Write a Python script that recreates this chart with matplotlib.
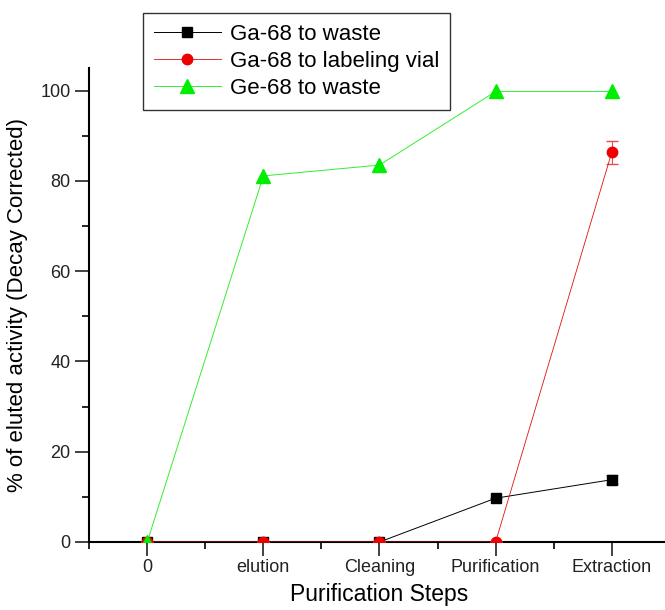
import numpy as np
import matplotlib
matplotlib.use('Agg')
import matplotlib.pyplot as plt
from matplotlib.ticker import MultipleLocator

plt.rcParams['font.family'] = ['Liberation Sans', 'DejaVu Sans']

# data
steps = ['0', 'elution', 'Cleaning', 'Purification', 'Extraction']
ga_waste = [0, 0, 0, 9.7, 13.8]
ga_waste_err = [0, 0, 0, 0, 1.0]
ga_vial = [0, 0, 0, 0, 86.3]
ga_vial_err = [0, 0, 0, 0, 2.5]
ge_waste = [0, 81.1, 83.5, 99.8, 99.8]

x = np.arange(len(steps))

fig = plt.figure(figsize=(6.65, 6.1), dpi=100)
ax = fig.add_axes([0.1341, 0.1115, 0.8731, 0.777])

# black, then red, then green on top
h1 = ax.errorbar(x, ga_waste, yerr=ga_waste_err, color='black', lw=0.7,
                 marker='s', ms=7, capsize=4, elinewidth=0.8, ecolor='#888888',
                 label='Ga-68 to waste', zorder=3)
h2 = ax.errorbar(x, ga_vial, yerr=ga_vial_err, color='#dd1111', lw=0.6,
                 marker='o', ms=7.5, mfc='#ee0000', mec='#ee0000',
                 capsize=4, elinewidth=0.8, ecolor='#e05050',
                 label='Ga-68 to labeling vial', zorder=4)
h3, = ax.plot(x, ge_waste, color='#33ee33', lw=0.7, marker='^', ms=9.5,
              mfc='#00ee00', mec='#00ee00',
              label='Ge-68 to waste', zorder=5)

ax.set_xlim(-0.5, 4.5)
ax.set_ylim(0, 105)
ax.set_xticks(x)
ax.set_xticklabels(steps)
ax.xaxis.set_minor_locator(MultipleLocator(0.5))
ax.yaxis.set_major_locator(MultipleLocator(20))
ax.yaxis.set_minor_locator(MultipleLocator(10))
ax.tick_params(which='major', length=10, width=1.2, labelsize=13, colors='#222222')
ax.tick_params(which='minor', length=5, width=1.2)
ax.tick_params(axis='x', pad=2)

ax.spines['top'].set_visible(False)
ax.spines['right'].set_visible(False)
ax.spines['left'].set_linewidth(1.5)
ax.spines['bottom'].set_linewidth(1.5)

ax.set_xlabel('Purification Steps', fontsize=16.5, labelpad=5)
ax.set_ylabel('% of eluted activity (Decay Corrected)', fontsize=16, labelpad=9)

leg = ax.legend(handles=[h1[0], h2[0], h3], labels=[h1.get_label(), h2.get_label(), h3.get_label()],
                loc='upper left', bbox_to_anchor=(0.0927, 1.116), fontsize=16,
                frameon=True, fancybox=False, edgecolor='black',
                handlelength=3.0, handletextpad=0.4, borderpad=0.5,
                labelspacing=0.27, borderaxespad=0)
leg.get_frame().set_linewidth(1.0)

fig.savefig('out.png', dpi=100)
